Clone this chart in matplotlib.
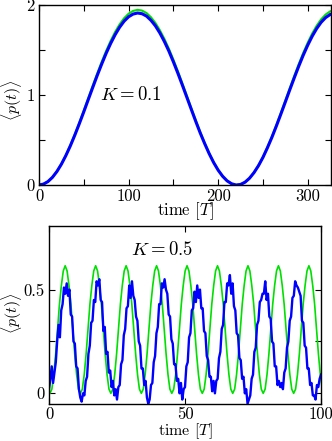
import numpy as np
import matplotlib
matplotlib.use("Agg")
import matplotlib.pyplot as plt

plt.rcParams["font.family"] = "serif"
plt.rcParams["font.serif"] = ["cmr10"]
plt.rcParams["mathtext.fontset"] = "cm"
plt.rcParams["axes.unicode_minus"] = False

# top panel, K = 0.1, sampled every 5 T
t_top = np.arange(0, 331, 5)
green_top = [0.000, 0.010, 0.039, 0.087, 0.153, 0.235, 0.333, 0.443, 0.564, 0.693,
             0.828, 0.966, 1.104, 1.239, 1.369, 1.491, 1.602, 1.701, 1.785, 1.853,
             1.903, 1.934, 1.946, 1.938, 1.911, 1.864, 1.800, 1.719, 1.623, 1.515,
             1.394, 1.266, 1.131, 0.994, 0.856, 0.720, 0.589, 0.467, 0.354, 0.254,
             0.168, 0.099, 0.047, 0.014, 0.000, 0.006, 0.032, 0.076, 0.139, 0.218,
             0.312, 0.421, 0.539, 0.667, 0.801, 0.939, 1.077, 1.213, 1.344, 1.468,
             1.581, 1.683, 1.770, 1.841, 1.894, 1.929, 1.945]
blue_top = [0.000, 0.010, 0.038, 0.085, 0.150, 0.231, 0.327, 0.435, 0.554, 0.681,
            0.813, 0.949, 1.084, 1.217, 1.344, 1.464, 1.573, 1.670, 1.753, 1.820,
            1.869, 1.899, 1.911, 1.903, 1.877, 1.830, 1.768, 1.688, 1.594, 1.488,
            1.369, 1.243, 1.111, 0.976, 0.841, 0.707, 0.578, 0.459, 0.348, 0.249,
            0.165, 0.097, 0.046, 0.014, 0.000, 0.006, 0.031, 0.075, 0.137, 0.214,
            0.306, 0.413, 0.529, 0.655, 0.787, 0.922, 1.058, 1.191, 1.320, 1.442,
            1.553, 1.653, 1.738, 1.808, 1.860, 1.894, 1.910]

# bottom panel, K = 0.5
t_green = np.arange(-0.35, 100.5, 0.7)
green_bot = [0.02,
    0.00, 0.02, 0.09, 0.19, 0.31, 0.43, 0.52, 0.59, 0.615, 0.59, 0.52, 0.43, 0.31, 0.19, 0.09, 0.02,
    0.00, 0.02, 0.09, 0.19, 0.31, 0.43, 0.52, 0.59, 0.615, 0.59, 0.52, 0.43, 0.31, 0.19, 0.09, 0.02,
    0.00, 0.02, 0.09, 0.19, 0.31, 0.43, 0.52, 0.59, 0.615, 0.59, 0.52, 0.43, 0.31, 0.19, 0.09, 0.02,
    0.00, 0.02, 0.09, 0.19, 0.31, 0.43, 0.52, 0.59, 0.615, 0.59, 0.52, 0.43, 0.31, 0.19, 0.09, 0.02,
    0.00, 0.02, 0.09, 0.19, 0.31, 0.43, 0.52, 0.59, 0.615, 0.59, 0.52, 0.43, 0.31, 0.19, 0.09, 0.02,
    0.00, 0.02, 0.09, 0.19, 0.31, 0.43, 0.52, 0.59, 0.615, 0.59, 0.52, 0.43, 0.31, 0.19, 0.09, 0.02,
    0.00, 0.02, 0.09, 0.19, 0.31, 0.43, 0.52, 0.59, 0.615, 0.59, 0.52, 0.43, 0.31, 0.19, 0.09, 0.02,
    0.00, 0.02, 0.09, 0.19, 0.31, 0.43, 0.52, 0.59, 0.615, 0.59, 0.52, 0.43, 0.31, 0.19, 0.09, 0.02,
    0.00, 0.02, 0.09, 0.19, 0.31, 0.43, 0.52, 0.59, 0.615, 0.59, 0.52, 0.43, 0.31, 0.19, 0.09, 0.02]

t_blue = np.arange(0, 100.01, 0.5)
blue_bot = [
    0.02, 0.07, 0.13, 0.05, 0.10, 0.15, 0.25, 0.33, 0.27, 0.40, 0.43, 0.51, 0.48, 0.53, 0.47, 0.50, 0.38, 0.37, 0.25, 0.24,
    0.13, 0.12, 0.02, -0.02, -0.04, 0.00, -0.01, 0.06, 0.08, 0.19, 0.23, 0.34, 0.35, 0.45, 0.44, 0.54, 0.52, 0.55, 0.45, 0.44,
    0.30, 0.32, 0.19, 0.20, 0.10, 0.11, 0.03, 0.06, -0.01, 0.02, -0.03, 0.03, 0.04, 0.14, 0.16, 0.28, 0.31, 0.41, 0.42, 0.52,
    0.46, 0.54, 0.47, 0.45, 0.37, 0.35, 0.25, 0.23, 0.12, 0.12, 0.04, 0.06, -0.02, -0.05, -0.03, 0.04, 0.05, 0.15, 0.18, 0.29,
    0.32, 0.43, 0.43, 0.53, 0.51, 0.55, 0.50, 0.48, 0.38, 0.37, 0.26, 0.24, 0.14, 0.14, 0.06, 0.07, 0.00, 0.05, -0.03, 0.02,
    0.03, 0.13, 0.15, 0.27, 0.29, 0.40, 0.41, 0.49, 0.44, 0.52, 0.46, 0.50, 0.41, 0.41, 0.30, 0.29, 0.18, 0.16, 0.08, 0.08,
    0.01, 0.06, 0.00, 0.06, 0.07, 0.17, 0.20, 0.31, 0.33, 0.44, 0.44, 0.53, 0.52, 0.57, 0.48, 0.53, 0.42, 0.40, 0.29, 0.28,
    0.17, 0.16, 0.07, 0.08, 0.00, 0.02, -0.05, -0.03, -0.01, 0.07, 0.09, 0.20, 0.22, 0.33, 0.35, 0.44, 0.45, 0.48, 0.48, 0.54,
    0.45, 0.48, 0.37, 0.36, 0.25, 0.24, 0.13, 0.13, 0.04, 0.06, 0.03, 0.05, 0.02, 0.10, 0.12, 0.22, 0.25, 0.35, 0.37, 0.46,
    0.47, 0.54, 0.52, 0.51, 0.49, 0.47, 0.35, 0.34, 0.23, 0.22, 0.12, 0.12, 0.04, 0.05, -0.01, -0.01, -0.03, 0.04, 0.03, 0.07,
    0.09]

green_c = "#00e000"
blue_c = "#0000ff"

fig = plt.figure(figsize=(3.32, 4.41), dpi=100)

ax1 = fig.add_axes([39 / 332, 1 - 185 / 441, 292 / 332, 180 / 441])
ax1.plot(t_top, green_top, color=green_c, lw=1.5)
ax1.plot(t_top, blue_top, color=blue_c, lw=2.2)
ax1.set_xlim(0, 326)
ax1.set_ylim(0, 2)
ax1.set_xticks([0, 50, 100, 150, 200, 250, 300])
ax1.set_xticklabels(["0", "", "100", "", "200", "", "300"])
ax1.set_yticks([0, 0.5, 1, 1.5, 2])
ax1.set_yticklabels(["0", "", "1", "", "2"])
ax1.set_xlabel(r"time $[T]$", fontsize=12, labelpad=-3)
ax1.set_ylabel(r"$\langle p(t)\rangle$", fontsize=11.5)
ax1.yaxis.set_label_coords(-0.052, 0.47)
ax1.text(68, 1.0, r"$K=0.1$", fontsize=13.5, va="center")

ax2 = fig.add_axes([49 / 332, 1 - 403.7 / 441, 272 / 332, 178 / 441])
ax2.plot(t_green, green_bot, color=green_c, lw=1.2)
ax2.plot(t_blue, blue_bot, color=blue_c, lw=1.7)
ax2.set_xlim(0, 100)
ax2.set_ylim(-0.05, 0.808)
ax2.set_xticks([0, 50, 100])
ax2.set_xticklabels(["0", "50", "100"])
ax2.set_yticks([0, 0.25, 0.5])
ax2.set_yticklabels(["0", "", "0.5"])
ax2.set_xlabel(r"time $[T]$", fontsize=11.5, labelpad=-0.5)
ax2.set_ylabel(r"$\langle p(t)\rangle$", fontsize=11.5)
ax2.yaxis.set_label_coords(-0.093, 0.51)
ax2.text(30, 0.69, r"$K=0.5$", fontsize=13.5, va="center")

for ax in (ax1, ax2):
    ax.tick_params(direction="in", top=True, right=True, length=4, width=0.8,
                   labelsize=12, pad=3)
    for s in ax.spines.values():
        s.set_linewidth(1.0)
ax2.tick_params(axis="x", pad=2)

fig.savefig("out.png", dpi=100)
